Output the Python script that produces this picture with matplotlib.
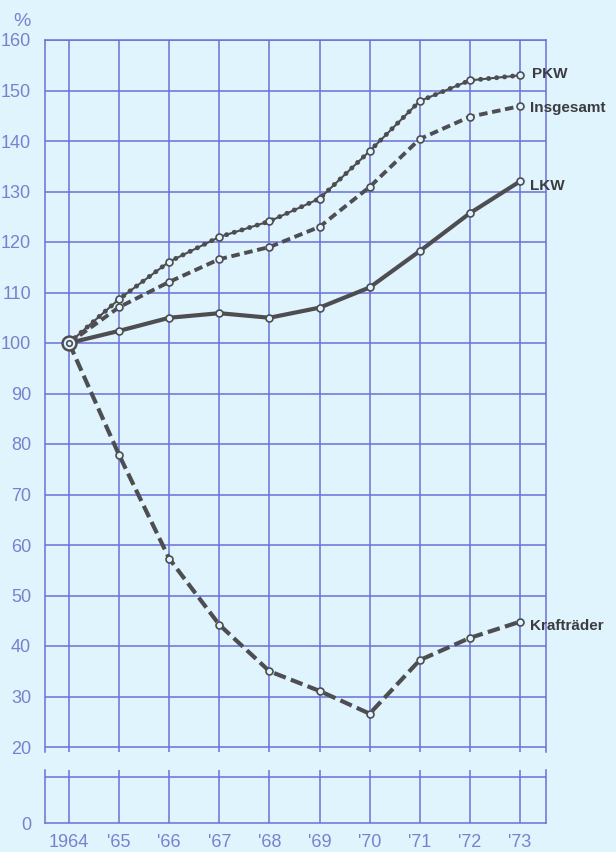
import matplotlib
matplotlib.use("Agg")
import matplotlib.pyplot as plt

# Data (1964 = 100)
years = [1964, 1965, 1966, 1967, 1968, 1969, 1970, 1971, 1972, 1973]
year_labels = ["1964", "'65", "'66", "'67", "'68", "'69", "'70", "'71", "'72", "'73"]
pkw = [100, 108.7, 116.1, 121.0, 124.1, 128.6, 138.0, 147.9, 152.0, 153.0]
insgesamt = [100, 107.1, 112.1, 116.6, 119.0, 123.0, 130.9, 140.4, 144.8, 146.9]
lkw = [100, 102.4, 105.0, 105.9, 105.0, 107.0, 111.0, 118.2, 125.7, 132.0]
kraftraeder = [100, 77.8, 57.3, 44.2, 35.0, 31.1, 26.6, 37.2, 41.6, 44.8]
y_ticks = list(range(20, 161, 10))

bg = "#dff4fc"
grid_c = "#6c70d8"
text_c = "#7a80cf"
line_c = "#4e4e52"
font_tick = ["Liberation Sans", "DejaVu Sans"]

fig = plt.figure(figsize=(6.16, 8.52), dpi=100, facecolor=bg)
ax = fig.add_axes([45 / 616, 1 - 752 / 852, 501 / 616, 712 / 852], facecolor=bg)
ax2 = fig.add_axes([45 / 616, 1 - 823 / 852, 501 / 616, 53 / 852], facecolor=bg)

x_lo, x_hi = 1963.52, 1973.52
y_lo = 20 - 5 / 50.5 * 10

for a in (ax, ax2):
    a.set_xlim(x_lo, x_hi)
    for s in a.spines.values():
        s.set_color(grid_c)
        s.set_linewidth(1.1)
    for yr in years:
        a.axvline(yr, color=grid_c, lw=1.1, zorder=1)
    a.tick_params(axis="both", length=0, colors=text_c)

# main panel
ax.set_ylim(y_lo, 160)
ax.spines["bottom"].set_visible(False)
for v in y_ticks:
    ax.axhline(v, color=grid_c, lw=1.1, zorder=1)
ax.set_yticks(y_ticks)
ax.set_yticklabels([str(v) for v in y_ticks], family=font_tick, fontsize=13, color=text_c)
ax.tick_params(axis="y", pad=10)
ax.set_xticks([])

# lower panel (zero line)
ax2.set_ylim(0, 1)
ax2.spines["top"].set_visible(False)
ax2.axhline(46 / 53, color=grid_c, lw=1.1, zorder=1)
ax2.set_yticks([0])
ax2.set_yticklabels(["0"], family=font_tick, fontsize=13, color=text_c)
ax2.tick_params(axis="y", pad=10)
ax2.set_xticks(years)
ax2.set_xticklabels(year_labels, family=font_tick, fontsize=13, color=text_c)
ax2.tick_params(axis="x", pad=8)

fig.text(22 / 616, 1 - 22 / 852, "%", color=text_c, fontsize=14, ha="center", va="center",
         family=font_tick)

mk = dict(marker="o", ms=5, mfc=bg, mec=line_c, mew=1.2, zorder=5)

# PKW: beaded line
ax.plot(years, pkw, color=line_c, lw=1.5, zorder=3)
ax.plot(years, pkw, color=line_c, lw=3.5, ls=(0, (0.05, 1.6)), dash_capstyle="round", zorder=3)
ax.plot(years, pkw, ls="none", **mk)

# Insgesamt: short dashes
ax.plot(years, insgesamt, color=line_c, lw=2.8, ls=(0, (2.2, 1.2)), zorder=3)
ax.plot(years, insgesamt, ls="none", **mk)

# LKW: solid
ax.plot(years, lkw, color=line_c, lw=3, zorder=3, solid_capstyle="round")
ax.plot(years, lkw, ls="none", **mk)

# Kraftraeder: long dashes
ax.plot(years, kraftraeder, color=line_c, lw=3, ls=(0, (3, 1.3)), zorder=3)
ax.plot(years, kraftraeder, ls="none", **mk)

# base point
ax.plot([years[0]], [100], marker="o", ms=10, mfc=bg, mec=line_c, mew=1.8, zorder=6)
ax.plot([years[0]], [100], marker="o", ms=4, mfc=bg, mec=line_c, mew=1.2, zorder=7)

lbl = dict(color="#3c3c40", fontsize=11, fontweight="bold", family=font_tick,
           ha="left", va="center", annotation_clip=False)
ax.annotate("PKW", (years[-1], pkw[-1]), xytext=(9, 1), textcoords="offset points", **lbl)
ax.annotate("Insgesamt", (years[-1], insgesamt[-1]), xytext=(7, -1), textcoords="offset points", **lbl)
ax.annotate("LKW", (years[-1], lkw[-1]), xytext=(7, -3), textcoords="offset points", **lbl)
ax.annotate("Krafträder", (years[-1], kraftraeder[-1]), xytext=(7, -3), textcoords="offset points", **lbl)

fig.savefig("out.png", dpi=100, facecolor=bg)
